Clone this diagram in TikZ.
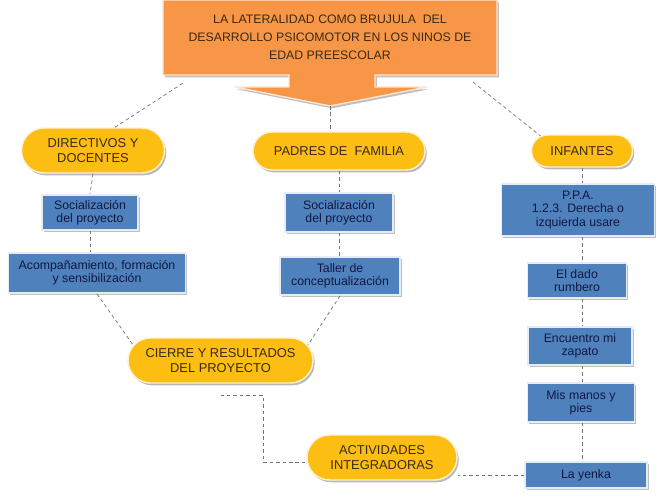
\documentclass[tikz,border=0pt]{standalone}
\usepackage{fontspec}
\setmainfont{Liberation Sans}
\usetikzlibrary{shapes.misc,shadows}

\definecolor{tituloorange}{RGB}{247,150,70}
\definecolor{pillyellow}{RGB}{252,190,18}
\definecolor{boxblue}{RGB}{79,129,189}
\definecolor{boxtext}{RGB}{16,24,66}
\definecolor{pilltext}{RGB}{58,42,20}
\definecolor{linkgray}{RGB}{115,115,115}

\tikzset{
  pill/.style={rounded rectangle, fill=pillyellow, draw=white!80!pillyellow, line width=1.2pt,
    text=pilltext, align=center, inner sep=0pt, font=\fontsize{11}{12.2}\selectfont,
    drop shadow={shadow xshift=1.5pt, shadow yshift=-2pt, fill=gray, opacity=0.55}},
  tarea/.style={rectangle, fill=boxblue, draw=white!85!boxblue, line width=1.5pt,
    text=boxtext, align=center, inner sep=0pt, font=\fontsize{10.5}{11.3}\selectfont,
    drop shadow={shadow xshift=1.5pt, shadow yshift=-1.5pt, fill=gray, opacity=0.5}},
  link/.style={draw=linkgray, dash pattern=on 3pt off 2.5pt, line width=0.6pt}
}

\begin{document}
\begin{tikzpicture}[x=0.03cm, y=-0.03cm]
      \useasboundingbox[fill=white] (0, 0) rectangle (666, 504);

      \draw[fill=tituloorange, draw=white!75!tituloorange, line width=1.2pt,
        drop shadow={shadow xshift=1.5pt, shadow yshift=-2pt, fill=gray, opacity=0.5}]
        (163, 0) -- (497, 0) -- (497, 75) -- (375, 75) -- (375, 87) -- (427, 87)
        -- (330, 106) -- (235, 87) -- (289, 87) -- (289, 75) -- (163, 75) -- cycle;
      \node (title) at (330, 37.5) [minimum width=10.02cm, minimum height=2.25cm, align=center,
        text=pilltext, font=\fontsize{10.5}{15.4}\selectfont]
        {LA LATERALIDAD COMO BRUJULA\ \ DEL\\DESARROLLO PSICOMOTOR EN LOS NINOS DE\\EDAD PREESCOLAR};
      \coordinate (tip) at (330, 106);

      \node (dir) at (93, 150.5) [pill, minimum width=4.29cm, minimum height=1.35cm] {DIRECTIVOS Y\\DOCENTES};
      \node (pad) at (339, 151) [pill, minimum width=5.16cm, minimum height=1.14cm] {PADRES DE\ \ FAMILIA};
      \node (inf) at (582, 151) [pill, minimum width=3.03cm, minimum height=0.96cm] {INFANTES};

      \node (soc1) at (90, 212.5) [tarea, minimum width=2.88cm, minimum height=1.05cm] {Socialización\\del proyecto};
      \node (acomp) at (97, 273) [tarea, minimum width=5.31cm, minimum height=1.2cm] {Acompañamiento, formación\\y sensibilización};
      \node (soc2) at (339, 212.5) [tarea, minimum width=3.24cm, minimum height=1.17cm] {Socialización\\del proyecto};
      \node (taller) at (340, 276) [tarea, minimum width=3.6cm, minimum height=1.14cm] {Taller de\\conceptualización};

      \node (ppa) at (578, 210) [tarea, minimum width=4.59cm, minimum height=1.56cm] {P.P.A.\\1.2.3. Derecha o\\izquierda usare};
      \node (dado) at (577, 280.5) [tarea, minimum width=2.97cm, minimum height=1.05cm] {El dado\\rumbero};
      \node (encu) at (580, 346) [tarea, minimum width=3.12cm, minimum height=1.14cm] {Encuentro mi\\zapato};
      \node (manos) at (581, 402.5) [tarea, minimum width=3.21cm, minimum height=1.17cm] {Mis manos y\\pies};
      \node (yenka) at (586, 475) [tarea, minimum width=3.66cm, minimum height=0.78cm] {La yenka};

      \node (cierre) at (220.5, 360.5) [pill, minimum width=5.55cm, minimum height=1.35cm] {CIERRE Y RESULTADOS\\DEL PROYECTO};
      \node (act) at (382, 457.5) [pill, minimum width=4.5cm, minimum height=1.35cm] {ACTIVIDADES\\INTEGRADORAS};

      \draw[link] ([shift={(20, 8)}]title.south west) -- ([xshift=22*0.03cm]dir.north);
      \draw[link] ([shift={(-24, 7)}]title.south east) -- (inf.160);
      \draw[link] (tip) -- (tip |- pad.north);

      \draw[link] (dir.south) -- (soc1.north);
      \draw[link] (soc1.south) -- (acomp.north -| soc1.south);
      \draw[link] (pad.south) -- (soc2.north);
      \draw[link] (soc2.south) -- (taller.north -| soc2.south);

      \draw[link] (inf.south) -- (ppa.north -| inf.south);
      \draw[link] (ppa.south -| inf.south) -- (dado.north -| inf.south);
      \draw[link] (dado.south -| inf.south) -- (encu.north -| inf.south);
      \draw[link] (encu.south -| inf.south) -- (manos.north -| inf.south);
      \draw[link] (manos.south -| inf.south) -- (yenka.north -| inf.south);

      \draw[link] (acomp.south) -- (cierre.170);
      \draw[link] (taller.south) -- (cierre.10);
      \draw[link] (cierre.south) ++(0, 12) -- ++(43, 0) |- ([yshift=-5*0.03cm]act.west);
      \draw[link] (yenka.west) -- (yenka.west -| act.east);
\end{tikzpicture}
\end{document}
